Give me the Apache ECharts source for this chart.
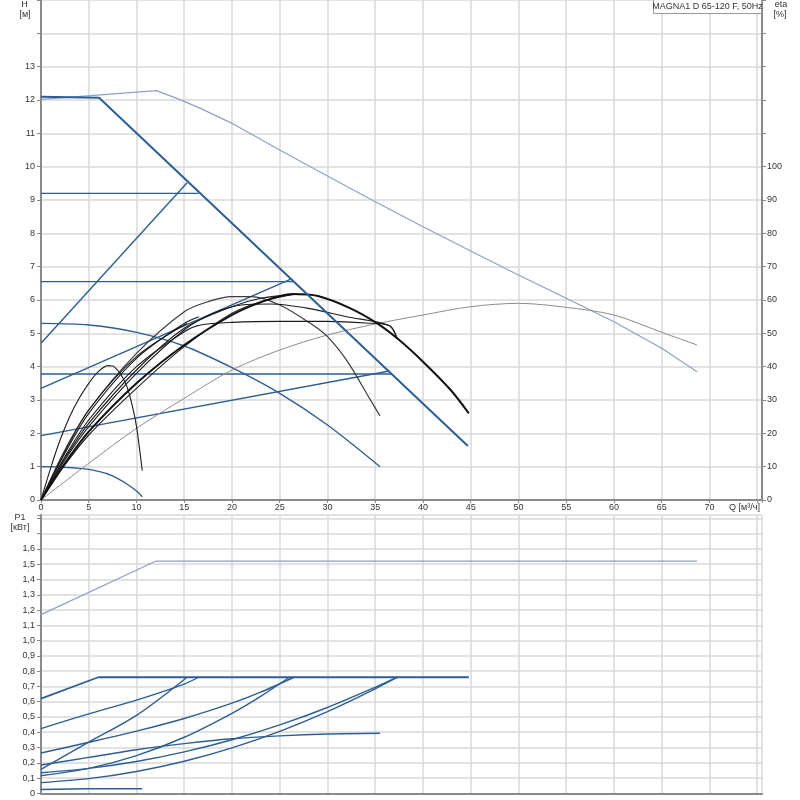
<!DOCTYPE html>
<html><head><meta charset="utf-8">
<script src="https://cdn.jsdelivr.net/npm/echarts@6/dist/echarts.min.js"></script>
<style>html,body{margin:0;padding:0;background:#fff}#c{width:800px;height:800px}</style>
</head><body><div id="c"></div>
<script>
// ---------- Head curves H [м] vs Q [м³/ч] ----------
const hMax      = [[0,12.1],[6.08,12.07],[44.7,1.62]];
const hMaxLight = [[0,12.02],[12.1,12.28],[14.5,12.02],[16.7,11.75],[20,11.3],[25,10.5],[30,9.72],[35,8.95],[40,8.2],[45,7.47],[50,6.75],[55,6.05],[60,5.35],[65,4.55],[68.7,3.85]];
const hConst92  = [[0,9.2],[16.5,9.2]];
const hConst655 = [[0,6.55],[26.4,6.55]];
const hConst378 = [[0,3.78],[36.7,3.78]];
const hProp1    = [[0,4.7],[15.3,9.52]];
const hProp2    = [[0,3.35],[26.1,6.62]];
const hProp3    = [[0,1.93],[36.5,3.87]];
const hFixed    = [[0,5.3],[5,5.25],[10,5.03],[15,4.62],[20,3.97],[25,3.2],[30,2.25],[35.5,1.0]];
const hMin      = [[0,1.0],[2,0.99],[4,0.95],[5,0.92],[6,0.86],[7,0.78],[8,0.65],[9,0.48],[10,0.27],[10.6,0.1]];

// ---------- Efficiency curves eta [%] ----------
const etaLight = [[0,0],[5,11],[10,21.5],[15,30.5],[20,39],[25,45],[30,49.5],[35,52.8],[40,55.5],[45,58],[50,59],[55,57.8],[60,55.5],[65,50.3],[68.7,46.5]];
const etaMin   = [[0,0],[1,9.5],[2,18],[3,25],[4,30.5],[5,35],[6,38.5],[7,40.3],[7.5,40.2],[8,39],[8.5,37],[9,34],[9.5,29],[10,22],[10.6,8.8]];
const etaFixed = [[0,0],[2.5,15],[5,27],[10,44],[15,56.5],[17.5,59.5],[20,61],[22,61],[25,58.5],[28.2,53],[30,49],[32.1,41.5],[34.5,30],[35.5,25.2]];
const etaMax   = [[0,0],[2.5,11],[5,20.5],[10,35],[15,46.5],[20,55.5],[23,59.3],[26.3,61.8],[29,61.2],[32.4,57.5],[35.2,53],[37.3,48.5],[40,41.5],[42.9,33],[44.8,26]];
const etaC378  = [[0,0],[2.5,13],[5,24],[10,40],[15,50.5],[16.7,52.5],[20,53.3],[25,53.6],[30,53.6],[34,53.1],[36.5,52.3],[37.3,48.3]];
const etaP3    = [[0,0],[2.5,12],[5,22],[10,38],[15,51],[18,56],[21,58.5],[24,58.8],[28,57.5],[32,55],[36.5,52.3],[37.3,48.3]];
const etaC655  = [[0,0],[2.5,12.5],[5,23],[10,39],[15,51.5],[20,58],[23,60.5],[26.4,61.6]];
const etaP2    = [[0,0],[2.5,10.5],[5,19.5],[10,33.5],[15,46],[20,56],[23,59.5],[26.1,61.5]];
const etaC92   = [[0,0],[2.5,14],[5,26],[10,42.5],[15,53],[16.5,55]];
const etaP1    = [[0,0],[2.5,14.5],[5,27],[10,43],[15.3,53]];

// ---------- Power curves P1 [кВт] ----------
const pLight   = [[0,1.17],[12,1.52],[68.7,1.52]];
const pMax     = [[0,0.62],[6,0.76],[44.8,0.76]];
const pConst92 = [[0,0.424],[5,0.52],[10,0.61],[15,0.715],[16.5,0.76]];
const pProp1   = [[0,0.157],[5,0.335],[10,0.51],[15.3,0.76]];
const pConst655= [[0,0.264],[5,0.334],[10,0.407],[15,0.49],[20,0.59],[23,0.662],[26.5,0.76]];
const pProp2   = [[0,0.115],[5,0.163],[10,0.247],[15,0.367],[20,0.524],[23,0.635],[26,0.76]];
const pConst378= [[0,0.135],[5,0.163],[10,0.208],[15,0.271],[20,0.351],[25,0.448],[30,0.562],[35,0.694],[37.3,0.76]];
const pProp3   = [[0,0.07],[5,0.096],[10,0.143],[15,0.21],[20,0.298],[25,0.406],[30,0.535],[35,0.684],[37.3,0.76]];
const pFixed   = [[0,0.185],[5,0.235],[10,0.285],[15,0.325],[20,0.357],[25,0.376],[30,0.388],[35.5,0.393]];
const pMin     = [[0,0.025],[5,0.03],[10.6,0.03]];

// ---------- Axis labels ----------
const qLabelMax = 70, hLabelMax = 13, etaLabelMax = 100, pLabelMax = 1.6;
const title = 'MAGNA1 D 65-120 F, 50Hz';

const BLUE = '#2d5e93', BLACK = '#1c1c1c', GRAY = '#8c8c8c', LIGHT = '#8ea0c6';
const FONT = 'Liberation Sans, Arial, sans-serif';

function ln(data, xi, yi, color, width, smooth, z) {
  return { type: 'line', data: data, xAxisIndex: xi, yAxisIndex: yi, showSymbol: false, symbol: 'none',
    smooth: smooth ? 0.3 : false,
    lineStyle: { color: color, width: width }, z: z || 2, silent: true };
}

const gridLine = { show: true, lineStyle: { color: '#d8d8d8', width: 1.5 } };
const axLine = { show: true, onZero: false, lineStyle: { color: '#8a8a8a', width: 2 } };
const lbl = { color: '#333', fontSize: 9, fontFamily: FONT };

const chart = echarts.init(document.getElementById('c'));
chart.setOption({
  animation: false,
  backgroundColor: '#fff',
  grid: [
    { left: 41, right: 38, top: 0, height: 500 },
    { left: 41, right: 38, top: 515, height: 278.3 }
  ],
  xAxis: [
    { gridIndex: 0, type: 'value', min: 0, max: 75.5, interval: 5,
      axisLine: axLine, axisTick: { show: true, length: 3, lineStyle: { color: '#888' } },
      axisLabel: Object.assign({ margin: 3, showMaxLabel: true,
        formatter: v => (v <= qLabelMax && Math.abs(v % 5) < 1e-6) ? String(v) : '' }, lbl),
      splitLine: gridLine },
    { gridIndex: 1, type: 'value', min: 0, max: 75.5, interval: 5,
      axisLine: axLine, axisTick: { show: false }, axisLabel: { show: false },
      splitLine: gridLine }
  ],
  yAxis: [
    { gridIndex: 0, type: 'value', min: 0, max: 15, interval: 1, position: 'left',
      axisLine: axLine, axisTick: { show: true, length: 4, lineStyle: { color: '#888' } },
      axisLabel: Object.assign({ margin: 6, formatter: v => v <= hLabelMax ? String(v) : '' }, lbl),
      splitLine: gridLine },
    { gridIndex: 0, type: 'value', min: 0, max: 150, interval: 10, position: 'right',
      axisLine: axLine, axisTick: { show: true, length: 4, lineStyle: { color: '#888' } },
      axisLabel: Object.assign({ margin: 5, formatter: v => v <= etaLabelMax ? String(v) : '' }, lbl),
      splitLine: { show: false } },
    { gridIndex: 1, type: 'value', min: 0, max: 1.8225, interval: 0.1, position: 'left',
      axisLine: axLine, axisTick: { show: true, length: 4, lineStyle: { color: '#888' } },
      axisLabel: Object.assign({ margin: 6, formatter: v => {
        if (v > pLabelMax + 0.01) return '';
        if (Math.abs(v) < 1e-9) return '0';
        return v.toFixed(1).replace('.', ',');
      } }, lbl),
      splitLine: gridLine }
  ],
  graphic: [
    { type: 'rect', z: 100, shape: { x: 653.5, y: -1, width: 108, height: 14.5 },
      style: { fill: '#fff', stroke: '#9a9a9a', lineWidth: 1 } },
    { type: 'text', z: 101, x: 707.5, y: 6.5, style: { text: title, fill: '#333', font: '9px ' + FONT, textAlign: 'center', textVerticalAlign: 'middle' } },
    { type: 'text', z: 101, x: 24.5, y: 5, style: { text: 'H', fill: '#333', font: '9px ' + FONT, textAlign: 'center', textVerticalAlign: 'middle' } },
    { type: 'text', z: 101, x: 25, y: 15, style: { text: '[м]', fill: '#333', font: '9px ' + FONT, textAlign: 'center', textVerticalAlign: 'middle' } },
    { type: 'text', z: 101, x: 781, y: 5, style: { text: 'eta', fill: '#333', font: '9px ' + FONT, textAlign: 'center', textVerticalAlign: 'middle' } },
    { type: 'text', z: 101, x: 780, y: 15, style: { text: '[%]', fill: '#333', font: '9px ' + FONT, textAlign: 'center', textVerticalAlign: 'middle' } },
    { type: 'text', z: 101, x: 20, y: 518, style: { text: 'P1', fill: '#333', font: '9px ' + FONT, textAlign: 'center', textVerticalAlign: 'middle' } },
    { type: 'text', z: 101, x: 20, y: 528, style: { text: '[кВт]', fill: '#333', font: '9px ' + FONT, textAlign: 'center', textVerticalAlign: 'middle' } },
    { type: 'text', z: 101, x: 729, y: 508, style: { text: 'Q [м³/ч]', fill: '#333', font: '9px ' + FONT, textAlign: 'left', textVerticalAlign: 'middle' } }
  ],
  series: [
    // top: head
    ln(hMaxLight, 0, 0, LIGHT, 1.2, false),
    ln(hMax, 0, 0, BLUE, 2, false, 4),
    ln(hConst92, 0, 0, BLUE, 1.4, false),
    ln(hConst655, 0, 0, BLUE, 1.4, false),
    ln(hConst378, 0, 0, BLUE, 1.4, false),
    ln(hProp1, 0, 0, BLUE, 1.4, false),
    ln(hProp2, 0, 0, BLUE, 1.4, false),
    ln(hProp3, 0, 0, BLUE, 1.4, false),
    ln(hFixed, 0, 0, BLUE, 1.4, true),
    ln(hMin, 0, 0, BLUE, 1.4, true),
    // top: efficiency
    ln(etaLight, 0, 1, GRAY, 1, true),
    ln(etaMin, 0, 1, BLACK, 1.1, true, 3),
    ln(etaFixed, 0, 1, '#3a3a3a', 1.2, true, 3),
    ln(etaC378, 0, 1, BLACK, 1.1, true, 3),
    ln(etaP3, 0, 1, BLACK, 1.1, true, 3),
    ln(etaC655, 0, 1, BLACK, 1.1, true, 3),
    ln(etaP2, 0, 1, BLACK, 1.1, true, 3),
    ln(etaC92, 0, 1, BLACK, 1.1, true, 3),
    ln(etaP1, 0, 1, BLACK, 1.1, true, 3),
    ln(etaMax, 0, 1, '#111', 2, true, 3),
    // bottom: power
    ln(pLight, 1, 2, LIGHT, 1.2, false),
    ln(pMax, 1, 2, BLUE, 1.8, false),
    ln(pConst92, 1, 2, BLUE, 1.4, true),
    ln(pProp1, 1, 2, BLUE, 1.4, true),
    ln(pConst655, 1, 2, BLUE, 1.4, true),
    ln(pProp2, 1, 2, BLUE, 1.4, true),
    ln(pConst378, 1, 2, BLUE, 1.4, true),
    ln(pProp3, 1, 2, BLUE, 1.4, true),
    ln(pFixed, 1, 2, BLUE, 1.4, true),
    ln(pMin, 1, 2, BLUE, 1.4, true)
  ]
});
</script>
</body></html>
